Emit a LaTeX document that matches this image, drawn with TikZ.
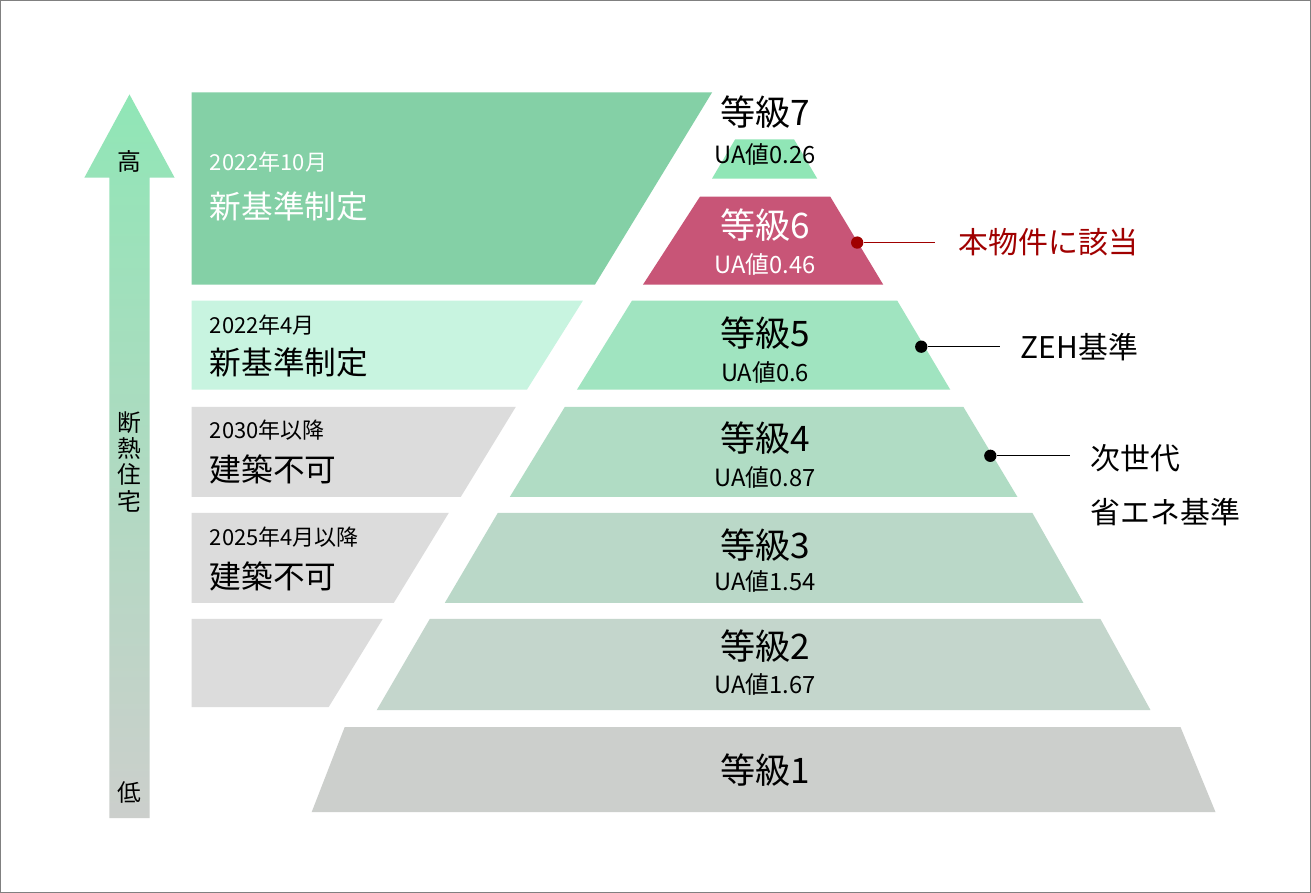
\documentclass[tikz,border=0pt]{standalone}
\usepackage{fontspec}
\setmainfont{Noto Sans CJK JP}
\begin{document}
\begin{tikzpicture}[x=0.02cm,y=-0.02cm]
  \definecolor{panelgreen}{HTML}{84D0A6}
  \definecolor{panellight}{HTML}{C8F4E0}
  \definecolor{panelgray}{HTML}{DCDCDC}
  \definecolor{lvsev}{HTML}{90E6B6}
  \definecolor{lvsix}{HTML}{C85577}
  \definecolor{lvfive}{HTML}{A0E4C0}
  \definecolor{lvfour}{HTML}{B0DCC4}
  \definecolor{lvthree}{HTML}{BAD8C8}
  \definecolor{lvtwo}{HTML}{C4D6CC}
  \definecolor{lvone}{HTML}{CCCFCC}
  \definecolor{notered}{HTML}{A00000}
  \tikzstyle{grade}=[font=\fontsize{20pt}{22pt}\selectfont,inner sep=0pt]
  \tikzstyle{ua}=[font=\fontsize{13.5pt}{15pt}\selectfont,inner sep=0pt]
  \tikzstyle{year}=[font=\fontsize{12.5pt}{14pt}\selectfont,inner sep=0pt,anchor=west]
  \tikzstyle{rule}=[font=\fontsize{18pt}{20pt}\selectfont,inner sep=0pt,anchor=west]
  \tikzstyle{note}=[font=\fontsize{17pt}{19pt}\selectfont,inner sep=0pt,anchor=west]
  \tikzstyle{dot}=[circle,fill=black,inner sep=0pt,minimum size=7pt]
  % frame
  \draw[gray,fill=white] (1,1) rectangle (1310,892);
  % arrow
  \shade[top color=lvsev,bottom color=lvone]
    (110,818) -- (110,178) -- (85,178) -- (130,95) -- (175,178) -- (150,178) -- (150,818) -- cycle;
  \node[ua] (high) at (130,162) {高};
  \node[ua,align=center] (axis) at (130,462) {断\\熱\\住\\宅};
  \node[ua] (low) at (130,792) {低};
  % left panels
  \fill[panelgreen] (192,93) -- (712,93) -- (595,285) -- (192,285) -- cycle;
  \fill[panellight] (192,301) -- (583,301) -- (527,390) -- (192,390) -- cycle;
  \fill[panelgray] (192,407) -- (516,407) -- (461,497) -- (192,497) -- cycle;
  \fill[panelgray] (192,513) -- (449,513) -- (394,603) -- (192,603) -- cycle;
  \fill[panelgray] (192,619) -- (383,619) -- (329,707) -- (192,707) -- cycle;
  \node[year,white] (oct) at (210,163) {2022年10月};
  \node[rule,white] (octrule) at (210,207) {新基準制定};
  \node[year] (apr) at (210,325) {2022年4月};
  \node[rule] (aprrule) at (210,363) {新基準制定};
  \node[year] (ban30) at (210,430) {2030年以降};
  \node[rule] (ban30rule) at (210,470) {建築不可};
  \node[year] (ban25) at (210,537) {2025年4月以降};
  \node[rule] (ban25rule) at (210,577) {建築不可};
  % pyramid
  \fill[lvsev] (735,140) -- (794,140) -- (817,179) -- (712,179) -- cycle;
  \fill[lvsix] (700,197) -- (830,197) -- (883,285) -- (643,285) -- cycle;
  \fill[lvfive] (632,301) -- (897,301) -- (950,390) -- (577,390) -- cycle;
  \fill[lvfour] (565,407) -- (963,407) -- (1017,497) -- (510,497) -- cycle;
  \fill[lvthree] (498,513) -- (1032,513) -- (1083,603) -- (445,603) -- cycle;
  \fill[lvtwo] (430,619) -- (1100,619) -- (1150,710) -- (377,710) -- cycle;
  \fill[lvone] (345,727) -- (1180,727) -- (1215,812) -- (312,812) -- cycle;
  \node[grade] (g7) at (765,113) {等級7};
  \node[ua] (u7) at (765,155) {UA値0.26};
  \node[grade,white] (g6) at (765,226) {等級6};
  \node[ua,white] (u6) at (765,265) {UA値0.46};
  \node[grade] (g5) at (765,333) {等級5};
  \node[ua] (u5) at (765,373) {UA値0.6};
  \node[grade] (g4) at (765,438) {等級4};
  \node[ua] (u4) at (765,478) {UA値0.87};
  \node[grade] (g3) at (765,545) {等級3};
  \node[ua] (u3) at (765,582) {UA値1.54};
  \node[grade] (g2) at (765,646) {等級2};
  \node[ua] (u2) at (765,684) {UA値1.67};
  \node[grade] (g1) at (765,770) {等級1};
  % notes
  \node[dot,fill=notered] (d6) at (857,243) {};
  \node[note,notered] (here) at (958,243) {本物件に該当};
  \draw[notered] (d6) -- (935,243) coordinate (e6);
  \node[dot] (d5) at (921,347) {};
  \node[note] (zeh) at (1020,347) {ZEH基準};
  \draw (d5) -- (1000,347) coordinate (e5);
  \node[dot] (d4) at (990,456) {};
  \node[note] (next) at (1090,458) {次世代};
  \node[note] (save) at (1090,512) {省エネ基準};
  \draw (d4) -- (1070,456) coordinate (e4);
\end{tikzpicture}
\end{document}
